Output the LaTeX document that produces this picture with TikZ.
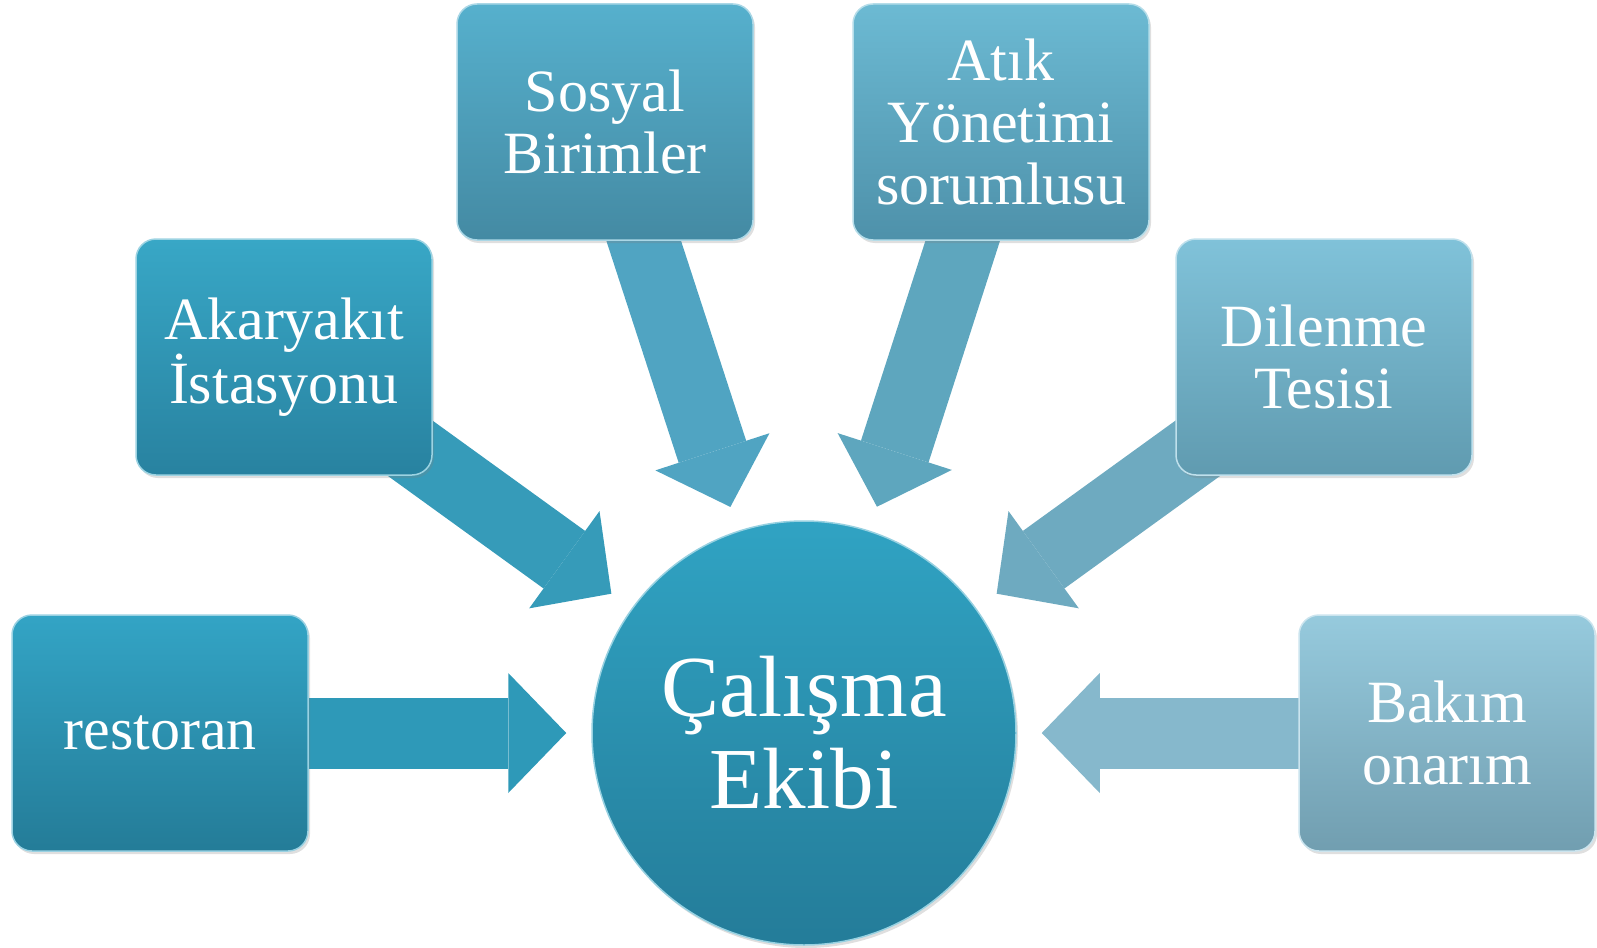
\documentclass[tikz,border=0pt]{standalone}
\usepackage{fontspec}
\setmainfont{Liberation Serif}
\usetikzlibrary{arrows.meta,backgrounds,shadows}

\definecolor{restTop}{RGB}{51,164,197}
\definecolor{restBot}{RGB}{36,124,152}
\definecolor{akarTop}{RGB}{56,167,198}
\definecolor{akarBot}{RGB}{40,130,160}
\definecolor{sosTop}{RGB}{86,176,205}
\definecolor{sosBot}{RGB}{68,138,163}
\definecolor{atikTop}{RGB}{108,186,211}
\definecolor{atikBot}{RGB}{78,145,170}
\definecolor{dilTop}{RGB}{128,194,217}
\definecolor{dilBot}{RGB}{96,155,176}
\definecolor{bakTop}{RGB}{150,202,221}
\definecolor{bakBot}{RGB}{113,158,176}
\definecolor{ekTop}{RGB}{48,163,195}
\definecolor{ekBot}{RGB}{36,124,153}
\definecolor{restArr}{RGB}{46,153,184}
\definecolor{akarArr}{RGB}{54,155,185}
\definecolor{sosArr}{RGB}{80,164,194}
\definecolor{atikArr}{RGB}{94,166,190}
\definecolor{dilArr}{RGB}{110,170,192}
\definecolor{bakArr}{RGB}{134,184,204}

\begin{document}
\begin{tikzpicture}[x=1pt,y=-1pt,
  box/.style 2 args={rounded corners=20pt, minimum width=296pt, minimum height=236pt,
    inner sep=0pt, align=center, text=white, font=\fontsize{60}{62}\selectfont,
    top color=#1, bottom color=#2, draw=#1!50!white, line width=1.5pt,
    drop shadow={opacity=.25, shadow xshift=2pt, shadow yshift=-3pt}},
  flow/.style={line width=71pt, draw=#1, shorten >=25pt,
    -{Triangle[length=58pt, width=120pt, line width=0pt]}}]
\useasboundingbox (0,0) rectangle (1597,947);

% Centre
\node [circle, minimum size=424pt, inner sep=0pt, align=center, text=white,
  font=\fontsize{87}{92}\selectfont, top color=ekTop, bottom color=ekBot,
  draw=ekTop!50!white, line width=1.5pt,
  drop shadow={opacity=.25, shadow xshift=2pt, shadow yshift=-3pt}]
  (ekip) at (804,733) {Çalışma\\Ekibi};

% Text Node
\node [box={restTop}{restBot}] (rest) at (160,733) {restoran};
% Text Node
\node [box={akarTop}{akarBot}] (akar) at (284,357) {Akaryakıt\\İstasyonu};
% Text Node
\node [box={sosTop}{sosBot}] (sos) at (605,122) {Sosyal\\Birimler};
% Text Node
\node [box={atikTop}{atikBot}] (atik) at (1001,122) {Atık\\Yönetimi\\sorumlusu};
% Text Node
\node [box={dilTop}{dilBot}] (dil) at (1324,357) {Dilenme\\Tesisi};
% Text Node
\node [box={bakTop}{bakBot}] (bak) at (1447,733) {Bakım\\onarım};

\begin{pgfonlayer}{background}
% Connection
\draw [flow=restArr] (rest.center) -- (ekip);
% Connection
\draw [flow=akarArr] (akar.center) -- (ekip);
% Connection
\draw [flow=sosArr] (sos.center) -- (ekip);
% Connection
\draw [flow=atikArr] (atik.center) -- (ekip);
% Connection
\draw [flow=dilArr] (dil.center) -- (ekip);
% Connection
\draw [flow=bakArr] (bak.center) -- (ekip);
\end{pgfonlayer}

\end{tikzpicture}
\end{document}
